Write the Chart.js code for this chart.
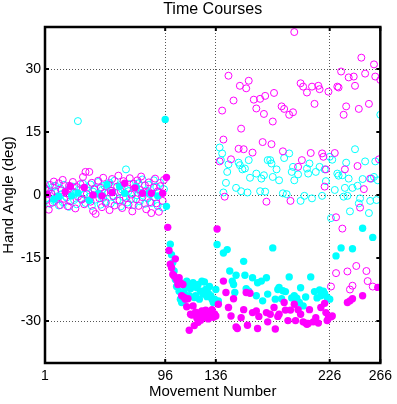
<!DOCTYPE html>
<html>
<head>
<meta charset="utf-8">
<script src="https://cdn.jsdelivr.net/npm/chart.js@4.4.1/dist/chart.umd.min.js"></script>
<style>
  html, body { margin: 0; padding: 0; background: #fff; }
  canvas { display: block; }
</style>
</head>
<body>
<canvas id="timeCourses" width="397" height="404"></canvas>
<script>
// axis ticks and where the dotted grid is drawn
var xTicks = [1, 96, 136, 226, 266];
var yTicks = [-30, -15, 0, 15, 30];
var xGridAt = [96, 136, 226];
var yGridAt = [-30, 0, 30];

// [movement number, hand angle]
var magentaFilled = [
  [3,0.2],[17,0.8],[21,2.1],[32,1.8],[39,0.0],[46,-0.2],[54,0.6],[64,2.8],[72,1.7],[78,0.4],[85,0.4],[94,0.4],
  [97,4.2],[98,-7.7],[99,-13.2],[100,-16.5],[101,-17.3],[102,-18.9],[103,-19.3],[104,-15.2],[105,-20.1],[106,-21.3],
  [107,-19.7],[108,-20.9],[109,-24.0],[110,-21.3],[111,-24.4],[112,-24.8],[113,-26.6],[114,-24.7],[115,-32.2],[116,-28.4],
  [117,-28.6],[118,-26.4],[119,-31.1],[120,-27.9],[121,-29.3],[122,-30.3],[123,-28.1],[124,-29.8],[125,-27.6],[126,-28.6],
  [127,-29.1],[128,-27.4],[129,-28.9],[130,-29.5],[131,-27.8],[132,-28.6],[133,-27.3],[134,-29.1],[135,-28.3],
  [136,-28.8],[137,-8.1],[138,-26.0],[142,-20.5],[144,-23.2],[146,-26.8],[148,-28.8],[150,-24.7],[152,-31.4],[153,-31.8],
  [156,-29.2],[158,-27.3],[160,-23.2],[161,-31.0],[163,-23.4],[165,-28.0],[168,-27.6],[169,-31.8],[170,-28.9],[176,-28.0],
  [177,-30.2],[179,-28.4],[182,-26.8],[183,-31.9],[185,-28.9],[186,-28.4],[190,-25.6],[191,-27.4],[193,-29.9],[195,-27.4],
  [198,-26.0],[199,-29.9],[201,-27.3],[203,-28.4],[205,-30.2],[207,-30.5],[208,-30.8],[209,-30.6],[210,-27.3],[213,-30.2],
  [215,-29.2],[217,-30.5],[219,-26.8],[222,-25.8],[223,-28.0],[224,-29.9],[225,-29.2],
  [227,-29.0],[228,-28.8],[240,-25.6],[242,-25.2],[244,-24.7],[252,-24.0],[264,-22.0]
];
var cyanFilled = [
  [8,-1.0],[12,-0.3],[22,-0.2],[27,0.5],[36,-1.3],[43,0.3],[50,2.5],[60,2.0],[64,0.4],[73,2.0],[83,0.5],[90,-0.2],
  [96,18.0],[97,-2.7],[100,-11.7],[101,-14.2],[102,-16.1],[103,-18.1],[104,-20.1],[105,-21.8],[106,-20.9],[107,-22.9],
  [108,-24.8],[109,-25.6],[110,-25.4],[111,-23.3],[112,-22.0],[113,-20.5],[114,-21.7],[115,-24.0],[116,-22.3],[117,-21.5],
  [118,-20.9],[119,-24.4],[120,-24.0],[121,-22.1],[122,-21.3],[123,-24.8],[124,-22.9],[125,-20.5],[126,-23.6],[127,-20.7],
  [128,-22.5],[129,-24.2],[130,-23.4],[131,-21.8],[132,-24.0],[133,-24.8],[134,-25.6],[135,-24.8],
  [136,-22.5],[137,-11.8],[138,-25.2],[142,-13.8],[145,-13.0],[147,-18.1],[149,-20.5],[150,-21.3],[151,-23.2],[152,-19.1],
  [158,-15.8],[159,-19.1],[160,-22.3],[162,-22.9],[165,-19.7],[168,-24.0],[169,-20.9],[172,-20.5],[173,-25.2],[176,-19.7],
  [177,-23.6],[181,-12.6],[183,-24.8],[185,-22.5],[186,-22.0],[188,-24.7],[189,-22.8],[191,-23.0],[194,-19.5],[196,-24.5],
  [198,-24.0],[200,-24.6],[202,-25.6],[203,-22.1],[205,-26.4],[207,-24.3],[211,-19.5],[214,-23.0],[216,-24.5],[218,-22.6],
  [219,-24.0],[221,-22.9],[222,-23.5],[224,-24.4],[226,-24.8],
  [231,-14.5],[235,-12.6],[244,-12.8],[252,-7.9],[260,-10.1]
];
var magentaOpen = [
  [1,1.5],[2,-1.2],[4,-3.5],[5,2.4],[6,0.3],[7,-1.8],[8,3.2],[9,0.9],[11,-0.6],[12,2.8],[13,-2.4],[14,1.1],[15,3.6],
  [16,-0.9],[18,0.4],[19,-2.7],[20,2.2],[21,-1.5],[23,3.1],[24,0.7],[25,-3.2],[26,1.9],[27,-0.4],[29,2.6],[30,-1.1],
  [31,4.3],[32,-2.2],[33,5.5],[34,0.2],[36,5.5],[37,-1.6],[38,2.9],[39,-3.8],[40,1.3],[41,-4.5],[43,3.4],[44,-0.8],
  [45,1.7],[46,-2.9],[47,4.1],[48,0.5],[49,-1.9],[51,2.5],[52,-3.6],[53,1.0],[54,3.8],[55,-0.3],[56,-2.5],[58,2.0],
  [59,4.6],[60,-1.3],[61,0.8],[62,-3.1],[63,3.3],[65,-0.7],[66,1.6],[67,-2.3],[68,4.0],[69,0.1],[70,-3.9],[71,2.7],
  [73,-1.0],[74,3.5],[75,-2.6],[76,1.2],[77,4.4],[78,-0.5],[80,2.3],[81,-3.4],[82,0.6],[83,3.0],[84,-1.7],[85,-4.3],
  [87,1.8],[88,3.9],[89,-2.0],[90,0.9],[91,-4.0],[92,2.1],[94,-1.4],[95,3.6],
  [139,8.0],[141,20.1],[142,13.2],[143,-0.4],[146,28.4],[148,8.5],[150,22.5],[154,11.0],[155,26.0],[156,15.8],[158,10.9],
  [160,25.4],[162,27.2],[165,10.1],[166,22.7],[168,20.6],[171,22.9],[173,12.6],[174,19.3],[175,23.6],[176,-1.6],[180,12.1],
  [181,17.5],[182,24.3],[188,21.1],[189,10.4],[190,20.5],[194,19.1],[195,-1.4],[197,19.7],[198,38.8],[201,6.7],[203,26.6],
  [204,8.3],[205,25.8],[208,24.4],[211,10.0],[212,25.8],[214,21.7],[217,26.0],[218,25.2],[220,9.9],[221,9.1],[222,2.0],
  [223,6.1],[225,24.6],
  [227,-21.8],[230,10.0],[231,-5.3],[231,-18.6],[232,25.8],[233,25.6],[235,29.4],[236,-8.0],[237,19.1],[238,6.1],[239,21.1],
  [240,-18.2],[241,28.0],[242,-22.5],[244,-21.6],[245,28.2],[246,26.0],[247,-16.9],[248,6.9],[249,20.5],[250,-3.0],[251,32.7],
  [253,1.4],[254,28.9],[255,-18.1],[256,-20.5],[257,21.7],[258,3.9],[260,-21.8],[261,31.1],[262,28.2],[265,8.5],[266,27.4]
];
var cyanOpen = [
  [1,2.6],[2,-0.8],[4,1.2],[5,-2.1],[6,0.5],[7,1.9],[8,-1.4],[9,2.2],[11,-0.3],[12,-2.5],[13,1.6],[14,0.2],[15,-1.7],
  [16,2.4],[18,-0.6],[19,1.1],[20,-2.8],[21,0.9],[23,2.0],[24,-1.2],[25,0.4],[26,-2.2],[27,17.6],[29,1.4],[30,-0.9],
  [31,2.7],[32,0.1],[33,-1.9],[34,1.8],[36,-0.4],[37,2.5],[38,-2.6],[39,0.8],[40,1.5],[41,-1.1],[43,3.1],[44,0.3],
  [45,-2.3],[46,1.2],[47,-0.7],[48,2.2],[49,-1.6],[51,0.6],[52,2.9],[53,-2.0],[54,1.0],[55,-0.2],[56,3.4],[58,-1.3],
  [59,0.7],[60,2.3],[61,-2.7],[62,1.3],[63,-0.5],[65,6.1],[66,-1.8],[67,0.9],[68,2.6],[69,-1.0],[70,0.4],[71,-2.4],
  [73,1.7],[74,-0.1],[75,2.8],[76,-1.5],[77,0.5],[78,3.7],[80,-2.1],[81,1.1],[82,-0.8],[83,2.4],[84,0.2],[85,-1.9],
  [87,3.5],[88,-0.6],[89,1.9],[90,-2.6],[91,0.7],[92,2.9],[94,-3.0],[95,1.4],
  [139,11.3],[140,8.3],[141,9.9],[142,0.6],[144,2.9],[145,5.5],[146,7.3],[152,1.7],[154,7.7],[155,7.1],[156,0.9],[157,6.1],
  [159,6.3],[161,0.6],[162,8.3],[163,4.1],[168,5.1],[171,0.9],[172,3.9],[174,4.7],[175,0.8],[177,8.3],[179,8.3],[180,7.5],
  [181,4.3],[184,6.1],[186,3.5],[189,0.4],[190,8.8],[192,0.2],[194,9.9],[196,5.5],[197,6.7],[198,3.5],[201,4.9],[203,-1.4],
  [206,-0.2],[208,6.3],[209,5.1],[210,7.5],[212,-0.8],[215,5.5],[218,6.7],[220,-0.2],[222,6.1],[226,9.1],
  [223,3.3],[227,-5.5],[228,8.4],[230,1.2],[232,5.1],[233,4.6],[236,4.7],[237,-0.4],[238,1.7],[239,7.7],[240,-0.2],
  [241,3.9],[242,-3.9],[244,1.7],[246,10.9],[248,2.2],[249,-2.0],[250,-0.8],[252,3.8],[254,8.0],[257,-4.3],[258,-1.4],
  [259,3.9],[261,4.3],[262,8.0],[263,-1.2],[264,3.5],[266,19.1]
];

function toPoints(list) {
    return list.map(function (p) { return { x: p[0], y: p[1] }; });
}

var MAGENTA = '#ff00ff';
var CYAN = '#00ffff';
var GRID = '#555555';

Chart.defaults.font.family = "'Liberation Sans', Arial, Helvetica, sans-serif";
Chart.defaults.color = '#000';

// MATLAB style box with inward tick marks
var boxPlugin = {
    id: 'box',
    afterDraw: function (chart) {
        var ctx = chart.ctx, a = chart.chartArea;
        var xs = chart.scales.x, ys = chart.scales.y;
        ctx.save();
        ctx.strokeStyle = '#000';
        ctx.lineWidth = 2;
        ctx.beginPath();
        xTicks.forEach(function (v) {
            var px = xs.getPixelForValue(v);
            ctx.moveTo(px, a.bottom); ctx.lineTo(px, a.bottom - 4);
            ctx.moveTo(px, a.top); ctx.lineTo(px, a.top + 4);
        });
        yTicks.forEach(function (v) {
            var py = ys.getPixelForValue(v);
            ctx.moveTo(a.left, py); ctx.lineTo(a.left + 4, py);
            ctx.moveTo(a.right, py); ctx.lineTo(a.right - 4, py);
        });
        ctx.stroke();
        ctx.lineWidth = 2.5;
        ctx.strokeRect(a.left, a.top, a.right - a.left, a.bottom - a.top);
        ctx.restore();
    }
};

var ctx = document.getElementById('timeCourses').getContext('2d');
var chart = new Chart(ctx, {
    type: 'scatter',
    data: {
        datasets: [
            { label: 'magenta filled', data: toPoints(magentaFilled), pointRadius: 3.7, borderWidth: 0,
              backgroundColor: MAGENTA, borderColor: MAGENTA },
            { label: 'cyan filled', data: toPoints(cyanFilled), pointRadius: 3.7, borderWidth: 0,
              backgroundColor: CYAN, borderColor: CYAN },
            { label: 'magenta open', data: toPoints(magentaOpen), pointRadius: 3.5, borderWidth: 1,
              backgroundColor: 'rgba(0,0,0,0)', borderColor: MAGENTA },
            { label: 'cyan open', data: toPoints(cyanOpen), pointRadius: 3.5, borderWidth: 1,
              backgroundColor: 'rgba(0,0,0,0)', borderColor: CYAN }
        ]
    },
    options: {
        responsive: false,
        animation: false,
        layout: { padding: { left: 0, top: 0, right: 14, bottom: 0 } },
        plugins: {
            legend: { display: false },
            tooltip: { enabled: false },
            title: {
                display: true,
                text: 'Time Courses',
                fullSize: false,
                color: '#000',
                font: { size: 16, weight: 'normal', lineHeight: 1 },
                padding: { top: 1.5, bottom: 9.5 }
            }
        },
        scales: {
            x: {
                type: 'linear',
                min: 1,
                max: 266,
                afterBuildTicks: function (scale) {
                    scale.ticks = xTicks.map(function (v) { return { value: v }; });
                },
                afterFit: function (scale) { scale.height = 41; },
                ticks: { autoSkip: false, padding: 5, font: { size: 14 }, color: '#000' },
                grid: {
                    drawTicks: false,
                    lineWidth: 1,
                    color: function (c) {
                        return c.tick && xGridAt.indexOf(c.tick.value) >= 0 ? GRID : 'rgba(0,0,0,0)';
                    }
                },
                border: { display: false, dash: [1, 2] },
                title: {
                    display: true,
                    text: 'Movement Number',
                    color: '#000',
                    font: { size: 15 },
                    padding: { top: 0, bottom: 3 }
                }
            },
            y: {
                type: 'linear',
                min: -40,
                max: 40,
                afterBuildTicks: function (scale) {
                    scale.ticks = yTicks.map(function (v) { return { value: v }; });
                },
                afterFit: function (scale) { scale.width = 45; },
                ticks: { autoSkip: false, padding: 4, font: { size: 14 }, color: '#000' },
                grid: {
                    drawTicks: false,
                    lineWidth: 1,
                    color: function (c) {
                        return c.tick && yGridAt.indexOf(c.tick.value) >= 0 ? GRID : 'rgba(0,0,0,0)';
                    }
                },
                border: { display: false, dash: [1, 2] },
                title: {
                    display: true,
                    text: 'Hand Angle (deg)',
                    color: '#000',
                    font: { size: 15 },
                    padding: { top: 0, bottom: 0 }
                }
            }
        }
    },
    plugins: [boxPlugin]
});
</script>
</body>
</html>
